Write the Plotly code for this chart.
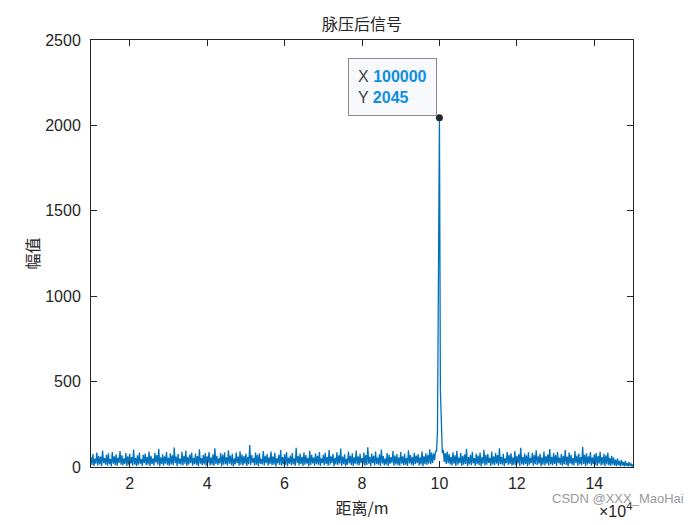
import numpy as np
import plotly.graph_objects as go

# range axis (m): samples every 250 m from 10000 to 150000
x_start = 10000
x_stop = 150000

# upper swings of the noisy compressed signal (every 500 m, starting at 10000)
peaks = [58, 76, 49, 84, 66, 61, 97, 52, 71, 80, 47, 88, 63, 74, 55, 93, 69, 50, 82, 62,
         77, 58, 102, 53, 68, 85, 46, 72, 78, 60, 91, 65, 51, 83, 70, 106, 57, 75, 63, 87,
         55, 80, 69, 114, 61, 76, 49, 89, 66, 97, 58, 73, 84, 54, 79, 64, 103, 52, 70, 82,
         62, 88, 56, 75, 110, 65, 51, 81, 71, 86, 57, 98, 67, 77, 50, 84, 61, 92, 73, 64,
         78, 59, 128, 70, 54, 85, 72, 80, 48, 94, 66, 76, 56, 90, 62, 83, 52, 71, 100, 58,
         75, 87, 55, 67, 81, 50, 112, 64, 78, 60, 84, 70, 53, 95, 72, 57, 79, 65, 88, 51,
         71, 83, 58, 99, 63, 76, 54, 86, 68, 108, 61, 74, 49, 91, 66, 80, 56, 96, 62, 77,
         52, 84, 70, 115, 60, 79, 65, 90, 55, 75, 102, 64, 50, 82, 72, 58, 93, 67, 76, 57,
         87, 62, 78, 53, 98, 70, 60, 83, 67, 75, 56, 92, 64, 80, 71, 104, 85, 78, 95, 210,
         2045, 190, 100, 82, 90, 76, 60, 86, 68, 95, 55, 81, 65, 74, 106, 58, 71, 89, 52, 78,
         67, 84, 57, 101, 72, 76, 54, 90, 63, 82, 70, 109, 60, 77, 51, 87, 71, 80, 56, 94,
         64, 75, 113, 58, 79, 68, 86, 53, 83, 71, 98, 62, 77, 57, 91, 66, 74, 105, 60, 81,
         70, 88, 55, 76, 65, 100, 61, 84, 72, 52, 93, 67, 78, 58, 118, 71, 80, 63, 87, 56,
         74, 82, 64, 89, 58, 77, 68, 85, 53, 66, 55, 44, 50, 36, 42, 30, 35, 24, 29, 20,
         16]

# lower swings (every 500 m, starting at 10250)
troughs = [12, 6, 19, 9, 15, 5, 22, 13, 8, 17, 4, 20, 11, 7, 24, 14, 9, 18, 6, 13,
           21, 8, 15, 5, 12, 19, 7, 23, 10, 14, 6, 18, 9, 25, 13, 4, 16, 8, 20, 12,
           7, 15, 10, 22, 5, 18, 13, 9, 20, 6, 14, 23, 8, 17, 12, 4, 19, 10, 15, 7,
           24, 9, 14, 6, 18, 12, 21, 5, 13, 17, 8, 19, 10, 4, 15, 22, 7, 14, 9, 20,
           6, 17, 12, 25, 8, 13, 5, 19, 15, 9, 22, 7, 18, 10, 14, 4, 21, 12, 8, 17,
           13, 5, 20, 10, 15, 7, 23, 9, 18, 6, 14, 19, 4, 12, 21, 8, 17, 13, 6, 22,
           9, 18, 7, 14, 24, 5, 15, 12, 20, 8, 17, 4, 13, 21, 10, 6, 19, 14, 9, 23,
           15, 7, 12, 19, 5, 22, 9, 17, 13, 6, 20, 10, 14, 4, 18, 24, 8, 15, 12, 7,
           19, 10, 14, 6, 21, 13, 8, 17, 23, 9, 15, 5, 18, 12, 20, 16, 24, 40, 90, 1380,
           450, 80, 30, 18, 22, 15, 9, 20, 6, 14, 22, 8, 13, 18, 5, 15, 10, 21, 7, 17,
           12, 4, 19, 9, 14, 24, 6, 15, 10, 20, 8, 17, 13, 5, 22, 12, 18, 7, 14, 9,
           21, 6, 15, 10, 18, 4, 13, 23, 8, 17, 12, 19, 5, 14, 9, 20, 7, 15, 10, 18,
           6, 22, 13, 8, 17, 12, 4, 19, 14, 9, 24, 7, 15, 10, 18, 5, 13, 20, 8, 17,
           12, 6, 19, 9, 14, 5, 15, 10, 7, 13, 8, 5, 11, 4, 9, 3, 7, 4, 6, 3]

tip_x = 100000
tip_y = 2045

x_ticks = [20000, 40000, 60000, 80000, 100000, 120000, 140000]
x_ticklabels = ['2', '4', '6', '8', '10', '12', '14']
y_ticks = [0, 500, 1000, 1500, 2000, 2500]

# interleave upper / lower swings into one signal
y = []
for i in range(len(troughs)):
    y.append(peaks[i])
    y.append(troughs[i])
y.append(peaks[-1])
x = np.linspace(x_start, x_stop, len(y))

axcol = '#262626'
fig = go.Figure()
fig.add_trace(go.Scatter(x=x, y=y, mode='lines',
                         line=dict(color='#0072BD', width=1.3)))
fig.add_trace(go.Scatter(x=[tip_x], y=[tip_y], mode='markers',
                         marker=dict(color='#262626', size=7)))

fig.add_annotation(x=tip_x, y=tip_y, xref='x', yref='y',
                   text=("<span style='color:#404040'>X </span><b style='color:#0E8FE0'>100000</b><br>"
                         "<span style='color:#404040'>Y </span><b style='color:#0E8FE0'>2045</b>"),
                   showarrow=False, xanchor='right', yanchor='bottom', align='left',
                   xshift=-2, yshift=2,
                   font=dict(family='Liberation Sans, Arial', size=16),
                   bgcolor='#F8F9FC', bordercolor='#8C8C8C', borderwidth=1, borderpad=9)

fig.add_annotation(x=1, y=0, xref='paper', yref='paper', xanchor='right', yanchor='top',
                   text='×10<sup>4</sup>', showarrow=False, yshift=-31, xshift=1,
                   font=dict(family='Liberation Sans, Arial', size=16, color=axcol))
fig.add_annotation(x=(686 - 91) / 542, y=(467 - 508) / 427, xref='paper', yref='paper',
                   showarrow=False, text='CSDN @XXX_MaoHai', xanchor='right',
                   font=dict(family='Liberation Sans, Arial', size=13, color='#9a9a9a'))

fig.update_xaxes(range=[x_start, x_stop], tickvals=x_ticks, ticktext=x_ticklabels,
                 ticks='inside', ticklen=6, tickcolor=axcol, mirror='ticks',
                 showline=True, linecolor=axcol, linewidth=1, showgrid=False, zeroline=False,
                 tickfont=dict(size=16, color=axcol), ticklabelstandoff=2,
                 title=dict(text='距离/m', standoff=11,
                            font=dict(family='Noto Sans CJK SC', size=16, color=axcol)))
fig.update_yaxes(range=[0, 2500], tickvals=y_ticks,
                 ticks='inside', ticklen=6, tickcolor=axcol, mirror='ticks',
                 showline=True, linecolor=axcol, linewidth=1, showgrid=False, zeroline=False,
                 tickfont=dict(size=16, color=axcol), ticklabelstandoff=6,
                 title=dict(text='幅值', standoff=1,
                            font=dict(family='Noto Sans CJK SC', size=16, color=axcol)))

fig.update_layout(width=692, height=517, showlegend=False,
                  margin=dict(l=83, r=67, t=32, b=58),
                  paper_bgcolor='white', plot_bgcolor='white',
                  font=dict(family='Liberation Sans, Arial', color=axcol),
                  title=dict(text='脉压后信号', x=0.5, xref='paper', xanchor='center',
                             y=0.969, yanchor='middle',
                             font=dict(family='Noto Sans CJK SC', size=16, color=axcol)))

fig.write_html("out.html")
